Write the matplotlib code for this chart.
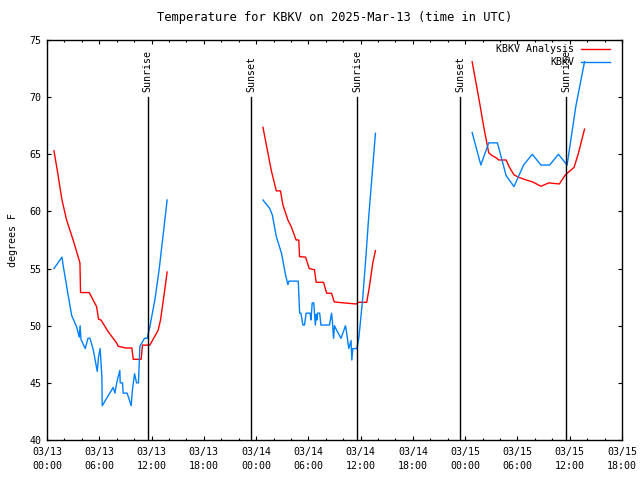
import numpy as np
import matplotlib
matplotlib.use("Agg")
import matplotlib.pyplot as plt
from matplotlib.lines import Line2D

# hours since 03/13 00:00 UTC, three daily segments (nan = gap)
ana_hours = [0.8, 1.2, 1.72, 2.25, 3.0, 3.78, 3.85, 4.85, 5.69, 5.92, 6.2, 7.0, 7.98, 8.17,
             9.05, 9.74, 9.9, 10.8, 10.96, 11.8, 12.76, 13.03, 13.4, 13.79, np.nan,
             24.79, 25.36, 25.74, 26.32, 26.8, 27.08, 27.65, 28.03, 28.6, 28.9, 28.99, 29.68,
             30.1, 30.7, 30.9, 31.74, 32.1, 32.66, 32.97, 34.03, 35.5, 35.7, 36.7, 37.0, 37.4,
             37.7, np.nan,
             48.8, 49.6, 50.2, 50.7, 51.15, 51.45, 51.85, 52.7, 53.05, 53.6, 54.1, 55.0, 55.7,
             56.7, 57.6, 58.8, 59.5, 60.5, 61.0, 61.7]
ana_temp = [65.3, 63.5, 61.0, 59.25, 57.5, 55.5, 52.9, 52.9, 51.67, 50.56, 50.5, 49.5, 48.5, 48.2,
            48.05, 48.05, 47.06, 47.06, 48.3, 48.3, 49.6, 50.5, 52.5, 54.7, np.nan,
            67.36, 65.1, 63.6, 61.8, 61.8, 60.56, 59.25, 58.67, 57.5, 57.5, 56.04, 56.0,
            55.0, 54.9, 53.8, 53.8, 52.84, 52.84, 52.08, 52.0, 51.9, 52.05, 52.05, 53.4, 55.5,
            56.57, np.nan,
            73.1, 69.75, 67.1, 65.14, 64.85, 64.75, 64.5, 64.5, 63.9, 63.2, 63.0, 62.75, 62.6,
            62.2, 62.5, 62.4, 63.2, 63.86, 65.1, 67.2]

obs_hours = [0.8, 1.72, 1.87, 2.4, 2.83, 3.4, 3.7, 3.8, 3.9, 4.39, 4.7, 4.93, 5.31, 5.77, 5.92,
             6.1, 6.3, 6.34, 7.6, 7.8, 8.0, 8.36, 8.4, 8.67, 8.74, 9.2, 9.66, 9.82, 10.05, 10.28,
             10.5, 10.66, 11.2, 11.5, 11.8, 12.38, 12.87, 13.4, 13.79, np.nan,
             24.79, 25.55, 25.86, 26.32, 26.93, 27.39, 27.65, 27.77, 28.84, 29.0, 29.15, 29.37,
             29.55, 29.75, 30.2, 30.3, 30.44, 30.62, 30.8, 30.9, 31.0, 31.05, 31.3, 31.44, 32.43,
             32.66, 32.75, 32.89, 33.0, 33.25, 33.75, 34.26, 34.35, 34.64, 34.9, 34.99, 35.1,
             35.56, 35.79, 36.25, 36.63, 36.9, 37.3, 37.7, np.nan,
             48.8, 49.8, 50.7, 51.7, 52.7, 53.6, 54.7, 55.7, 56.7, 57.7, 58.7, 59.7, 60.7, 61.7]
obs_temp = [55.0, 56.0, 55.2, 52.8, 50.9, 49.9, 49.0, 50.0, 48.8, 48.0, 48.9, 48.9, 47.9, 46.0, 47.3,
            48.0, 45.5, 43.0, 44.6, 44.1, 45.0, 46.1, 45.0, 45.0, 44.1, 44.1, 43.0, 44.5, 45.8, 45.0,
            45.0, 48.2, 48.9, 48.9, 49.9, 52.25, 54.9, 58.4, 61.0, np.nan,
            61.0, 60.27, 59.7, 57.8, 56.3, 54.4, 53.6, 53.9, 53.9, 51.1, 51.1, 50.06,
            50.06, 51.1, 51.1, 50.5, 52.0, 52.0, 50.06, 51.0, 50.5, 51.1, 51.1, 50.06, 50.06,
            51.1, 50.5, 48.9, 50.0, 49.6, 48.9, 50.0, 49.6, 48.0, 48.7, 47.0, 48.0,
            48.0, 48.9, 52.5, 56.3, 59.25, 63.04, 66.84, np.nan,
            66.9, 64.06, 66.0, 66.0, 63.13, 62.17, 64.06, 65.0, 64.06, 64.06, 65.0, 64.06, 69.2, 73.1]

sun_hours = [11.56, 23.42, 35.6, 47.4, 59.6]
sun_labels = ["Sunrise", "Sunset", "Sunrise", "Sunset", "Sunrise"]

tick_hours = list(range(0, 67, 6))
tick_labels = ["03/13\n00:00", "03/13\n06:00", "03/13\n12:00", "03/13\n18:00",
               "03/14\n00:00", "03/14\n06:00", "03/14\n12:00", "03/14\n18:00",
               "03/15\n00:00", "03/15\n06:00", "03/15\n12:00", "03/15\n18:00"]

plt.rcParams['font.family'] = ['DejaVu Sans Mono']
plt.rcParams['font.size'] = 7.2

fig = plt.figure(figsize=(6.4, 4.8), dpi=100)
ax = fig.add_axes([47 / 640, 40 / 480, 575 / 640, 400 / 480])

red = '#ff0000'
blue = '#0080ff'
ax.plot(ana_hours, ana_temp, color=red, lw=1.0)
ax.plot(obs_hours, obs_temp, color=blue, lw=1.0)

# sunrise / sunset markers
for h, lab in zip(sun_hours, sun_labels):
    ax.plot([h, h], [40, 70], color='black', lw=1.0)
    ax.annotate(lab, (h, 70), xytext=(0, 4), textcoords='offset points',
                rotation=90, ha='center', va='bottom')

ax.set_xlim(0, 66)
ax.set_ylim(40, 75)
ax.set_xticks(tick_hours)
ax.set_xticklabels(tick_labels, linespacing=1.5)
ax.set_xticks(range(0, 67, 2), minor=True)
ax.set_yticks(range(40, 76, 5))
ax.tick_params(which='both', direction='in', top=True, right=True, width=0.8)
ax.tick_params(which='major', length=3.2)
ax.tick_params(axis='x', which='major', pad=5)
ax.tick_params(axis='y', which='major', pad=4)
ax.tick_params(which='minor', length=1.6)
for s in ax.spines.values():
    s.set_linewidth(1.0)

ax.set_ylabel('degrees F', labelpad=8)
ax.set_title('Temperature for KBKV on 2025-Mar-13 (time in UTC)', pad=14)

# gnuplot-style key, text right-aligned
key = [("KBKV Analysis", red), ("KBKV", blue)]
for i, (name, c) in enumerate(key):
    yk = 1 - (9 + 13 * i) / 400
    ax.text(1 - 48 / 575, yk, name, transform=ax.transAxes, ha='right', va='center')
    ax.add_line(Line2D([1 - 41 / 575, 1 - 12 / 575], [yk, yk], transform=ax.transAxes,
                       color=c, lw=1.0))

fig.savefig('out.png', dpi=100)
